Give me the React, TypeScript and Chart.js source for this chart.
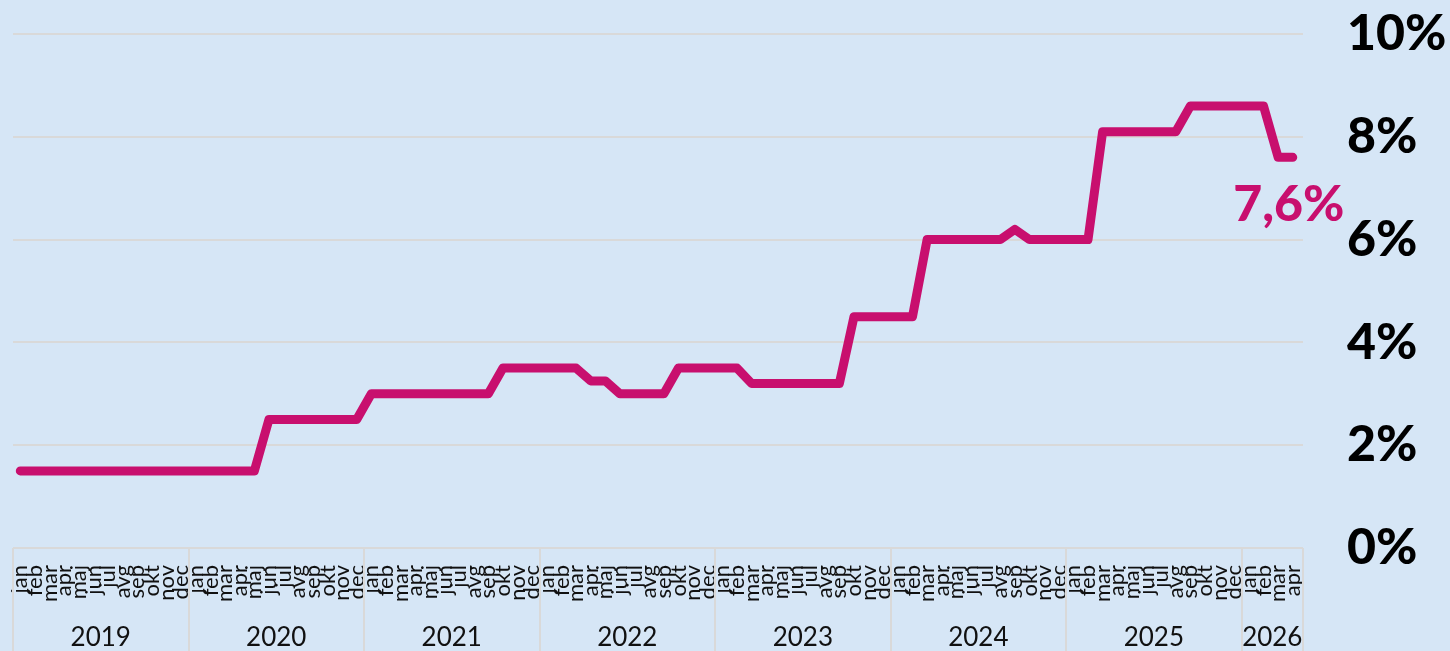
import { useEffect, useRef } from 'react';
import { Chart, registerables } from 'chart.js';

Chart.register(...registerables);

const monthNames = ['jan', 'feb', 'mar', 'apr', 'maj', 'jun', 'jul', 'avg', 'sep', 'okt', 'nov', 'dec'];
const years = ['2019', '2020', '2021', '2022', '2023', '2024', '2025', '2026'];
const monthsInYear = [12, 12, 12, 12, 12, 12, 12, 4];

const rates2019 = [1.5, 1.5, 1.5, 1.5, 1.5, 1.5, 1.5, 1.5, 1.5, 1.5, 1.5, 1.5];
const rates2020 = [1.5, 1.5, 1.5, 1.5, 1.5, 2.5, 2.5, 2.5, 2.5, 2.5, 2.5, 2.5];
const rates2021 = [3.0, 3.0, 3.0, 3.0, 3.0, 3.0, 3.0, 3.0, 3.0, 3.5, 3.5, 3.5];
const rates2022 = [3.5, 3.5, 3.5, 3.25, 3.25, 3.0, 3.0, 3.0, 3.0, 3.5, 3.5, 3.5];
const rates2023 = [3.5, 3.5, 3.2, 3.2, 3.2, 3.2, 3.2, 3.2, 3.2, 4.5, 4.5, 4.5];
const rates2024 = [4.5, 4.5, 6.0, 6.0, 6.0, 6.0, 6.0, 6.0, 6.2, 6.0, 6.0, 6.0];
const rates2025 = [6.0, 6.0, 8.1, 8.1, 8.1, 8.1, 8.1, 8.1, 8.6, 8.6, 8.6, 8.6];
const rates2026 = [8.6, 8.6, 7.6, 7.6];

const yTickValues = [0, 2, 4, 6, 8, 10];
const lastValueLabel = '7,6%';

const monthLabels: string[] = [];
monthsInYear.forEach((n) => {
  for (let m = 0; m < n; m++) monthLabels.push(monthNames[m]);
});
const rateValues = [
  ...rates2019, ...rates2020, ...rates2021, ...rates2022,
  ...rates2023, ...rates2024, ...rates2025, ...rates2026,
];

const BG = '#D6E6F6';
const LINE = '#C80F6E';
const GRID = '#D9D9D9';
const FONT = 'Lato, "Open Sans", sans-serif';

const yearPlugin = {
  id: 'yearAxis',
  afterDraw(chart: any) {
    const ctx = chart.ctx;
    const xs = chart.scales.x;
    const area = chart.chartArea;
    const h = chart.height;
    ctx.save();
    ctx.strokeStyle = GRID;
    ctx.lineWidth = 2;
    let start = 0;
    const bounds: number[] = [];
    monthsInYear.forEach((n) => {
      bounds.push(start);
      start += n;
    });
    bounds.forEach((b) => {
      const x = Math.round(xs.getPixelForValue(b - 0.5));
      ctx.beginPath();
      ctx.moveTo(x, area.bottom);
      ctx.lineTo(x, h);
      ctx.stroke();
    });
    ctx.beginPath();
    ctx.moveTo(area.right, area.bottom);
    ctx.lineTo(area.right, h);
    ctx.stroke();

    ctx.fillStyle = '#111';
    ctx.font = `26px ${FONT}`;
    ctx.textAlign = 'center';
    ctx.textBaseline = 'alphabetic';
    years.forEach((yr, i) => {
      const s = bounds[i];
      const e = s + monthsInYear[i];
      const x0 = xs.getPixelForValue(s - 0.5);
      const x1 = i === years.length - 1 ? area.right : xs.getPixelForValue(e - 0.5);
      ctx.fillText(yr, (x0 + x1) / 2, 646);
    });
    ctx.restore();
  },
  afterDatasetsDraw(chart: any) {
    const ctx = chart.ctx;
    const meta = chart.getDatasetMeta(0);
    const pt = meta.data[meta.data.length - 1];
    ctx.save();
    ctx.fillStyle = LINE;
    ctx.font = `900 50px ${FONT}`;
    ctx.textAlign = 'center';
    ctx.textBaseline = 'alphabetic';
    ctx.fillText(lastValueLabel, pt.x - 4, pt.y + 64);
    ctx.restore();
  },
};

export default function App() {
  const canvasRef = useRef<HTMLCanvasElement | null>(null);

  useEffect(() => {
    document.body.style.margin = '0';
    document.body.style.background = BG;
    const canvas = canvasRef.current;
    if (!canvas) return;
    const chart = new Chart(canvas, {
      type: 'line',
      data: {
        datasets: [
          {
            data: rateValues.map((v, i) => ({ x: i, y: v })),
            borderColor: LINE,
            borderWidth: 9,
            pointRadius: 0,
            borderCapStyle: 'round',
            borderJoinStyle: 'round',
            tension: 0,
          },
        ],
      },
      options: {
        responsive: false,
        animation: false,
        devicePixelRatio: 1,
        layout: { padding: { left: 13, top: 34, right: 0, bottom: 0 } },
        plugins: { legend: { display: false }, tooltip: { enabled: false } },
        scales: {
          x: {
            type: 'linear',
            bounds: 'data',
            min: -0.5,
            max: 87.7,
            position: 'bottom',
            grid: { display: false, drawTicks: false },
            border: { display: false },
            afterBuildTicks: (scale: any) => {
              scale.ticks = monthLabels.map((_, i) => ({ value: i }));
            },
            afterFit: (scale: any) => {
              scale.height = 103;
              scale.paddingLeft = 0;
              scale.paddingRight = 0;
            },
            ticks: {
              autoSkip: false,
              minRotation: 90,
              maxRotation: 90,
              padding: 17,
              color: '#111',
              font: { family: FONT, size: 22 },
              callback: (v: any) => monthLabels[v as number] ?? '',
            },
          },
          y: {
            type: 'linear',
            position: 'right',
            min: 0,
            max: 10,
            afterBuildTicks: (scale: any) => {
              scale.ticks = yTickValues.map((v) => ({ value: v }));
            },
            afterFit: (scale: any) => {
              scale.width = 147;
            },
            grid: {
              color: GRID,
              lineWidth: 2,
              drawTicks: true,
              tickLength: 44,
              tickColor: 'rgba(0,0,0,0)',
            },
            border: { display: false },
            ticks: {
              padding: 0,
              color: '#000',
              font: { family: FONT, size: 50, weight: 900 as any },
              callback: (v: any) => `${v}%`,
            },
          },
        },
      },
      plugins: [yearPlugin],
    });
    return () => chart.destroy();
  }, []);

  return (
    <div style={{ width: 1450, height: 651, background: BG }}>
      <canvas ref={canvasRef} width={1450} height={651} style={{ display: 'block' }} />
    </div>
  );
}
